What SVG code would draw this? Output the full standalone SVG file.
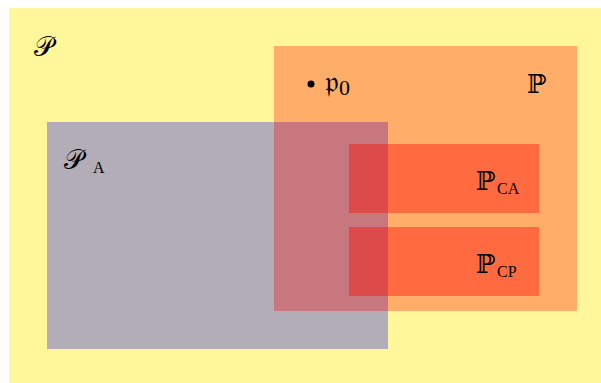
<svg xmlns="http://www.w3.org/2000/svg" width="601" height="383" viewBox="0 0 601 383">
<style>
.m{font-family:"DejaVu Serif","Noto Sans",serif;fill:#000}
.s{font-family:"Liberation Serif","DejaVu Serif",serif;fill:#000}
</style>
<rect width="601" height="383" fill="#fff"/>
<g id="P-script">
<rect x="9" y="8" width="592" height="375" fill="#FFF799"/>
<text class="m" x="34" y="56" font-size="27">𝒫</text>
</g>
<g id="P-A">
<rect x="47" y="122" width="341" height="227" fill="#B3ADB8"/>
<text class="m" x="64" y="169" font-size="27">𝒫</text>
<text class="s" x="93" y="173" font-size="16">A</text>
</g>
<g id="P">
<rect x="274" y="46" width="303" height="265" fill="#FFAD69"/>
<rect x="274" y="122" width="114" height="189" fill="#C8777E"/>
<text class="m" x="527" y="93" font-size="26">ℙ</text>
<circle cx="311" cy="84" r="3.5" fill="#000"/>
<text class="m" x="325" y="92" font-size="30">𝔭</text>
<text class="s" x="339" y="95" font-size="22">0</text>
</g>
<g id="P-CA">
<rect x="349" y="144" width="190" height="69" fill="#FF6A40"/>
<rect x="349" y="144" width="39" height="69" fill="#DD4A4A"/>
<text class="m" x="476" y="190" font-size="26">ℙ</text>
<text class="s" x="497" y="194" font-size="16">CA</text>
</g>
<g id="P-CP">
<rect x="349" y="227" width="190" height="69" fill="#FF6A40"/>
<rect x="349" y="227" width="39" height="69" fill="#DD4A4A"/>
<text class="m" x="476" y="273" font-size="26">ℙ</text>
<text class="s" x="497" y="277" font-size="16">CP</text>
</g>
</svg>
